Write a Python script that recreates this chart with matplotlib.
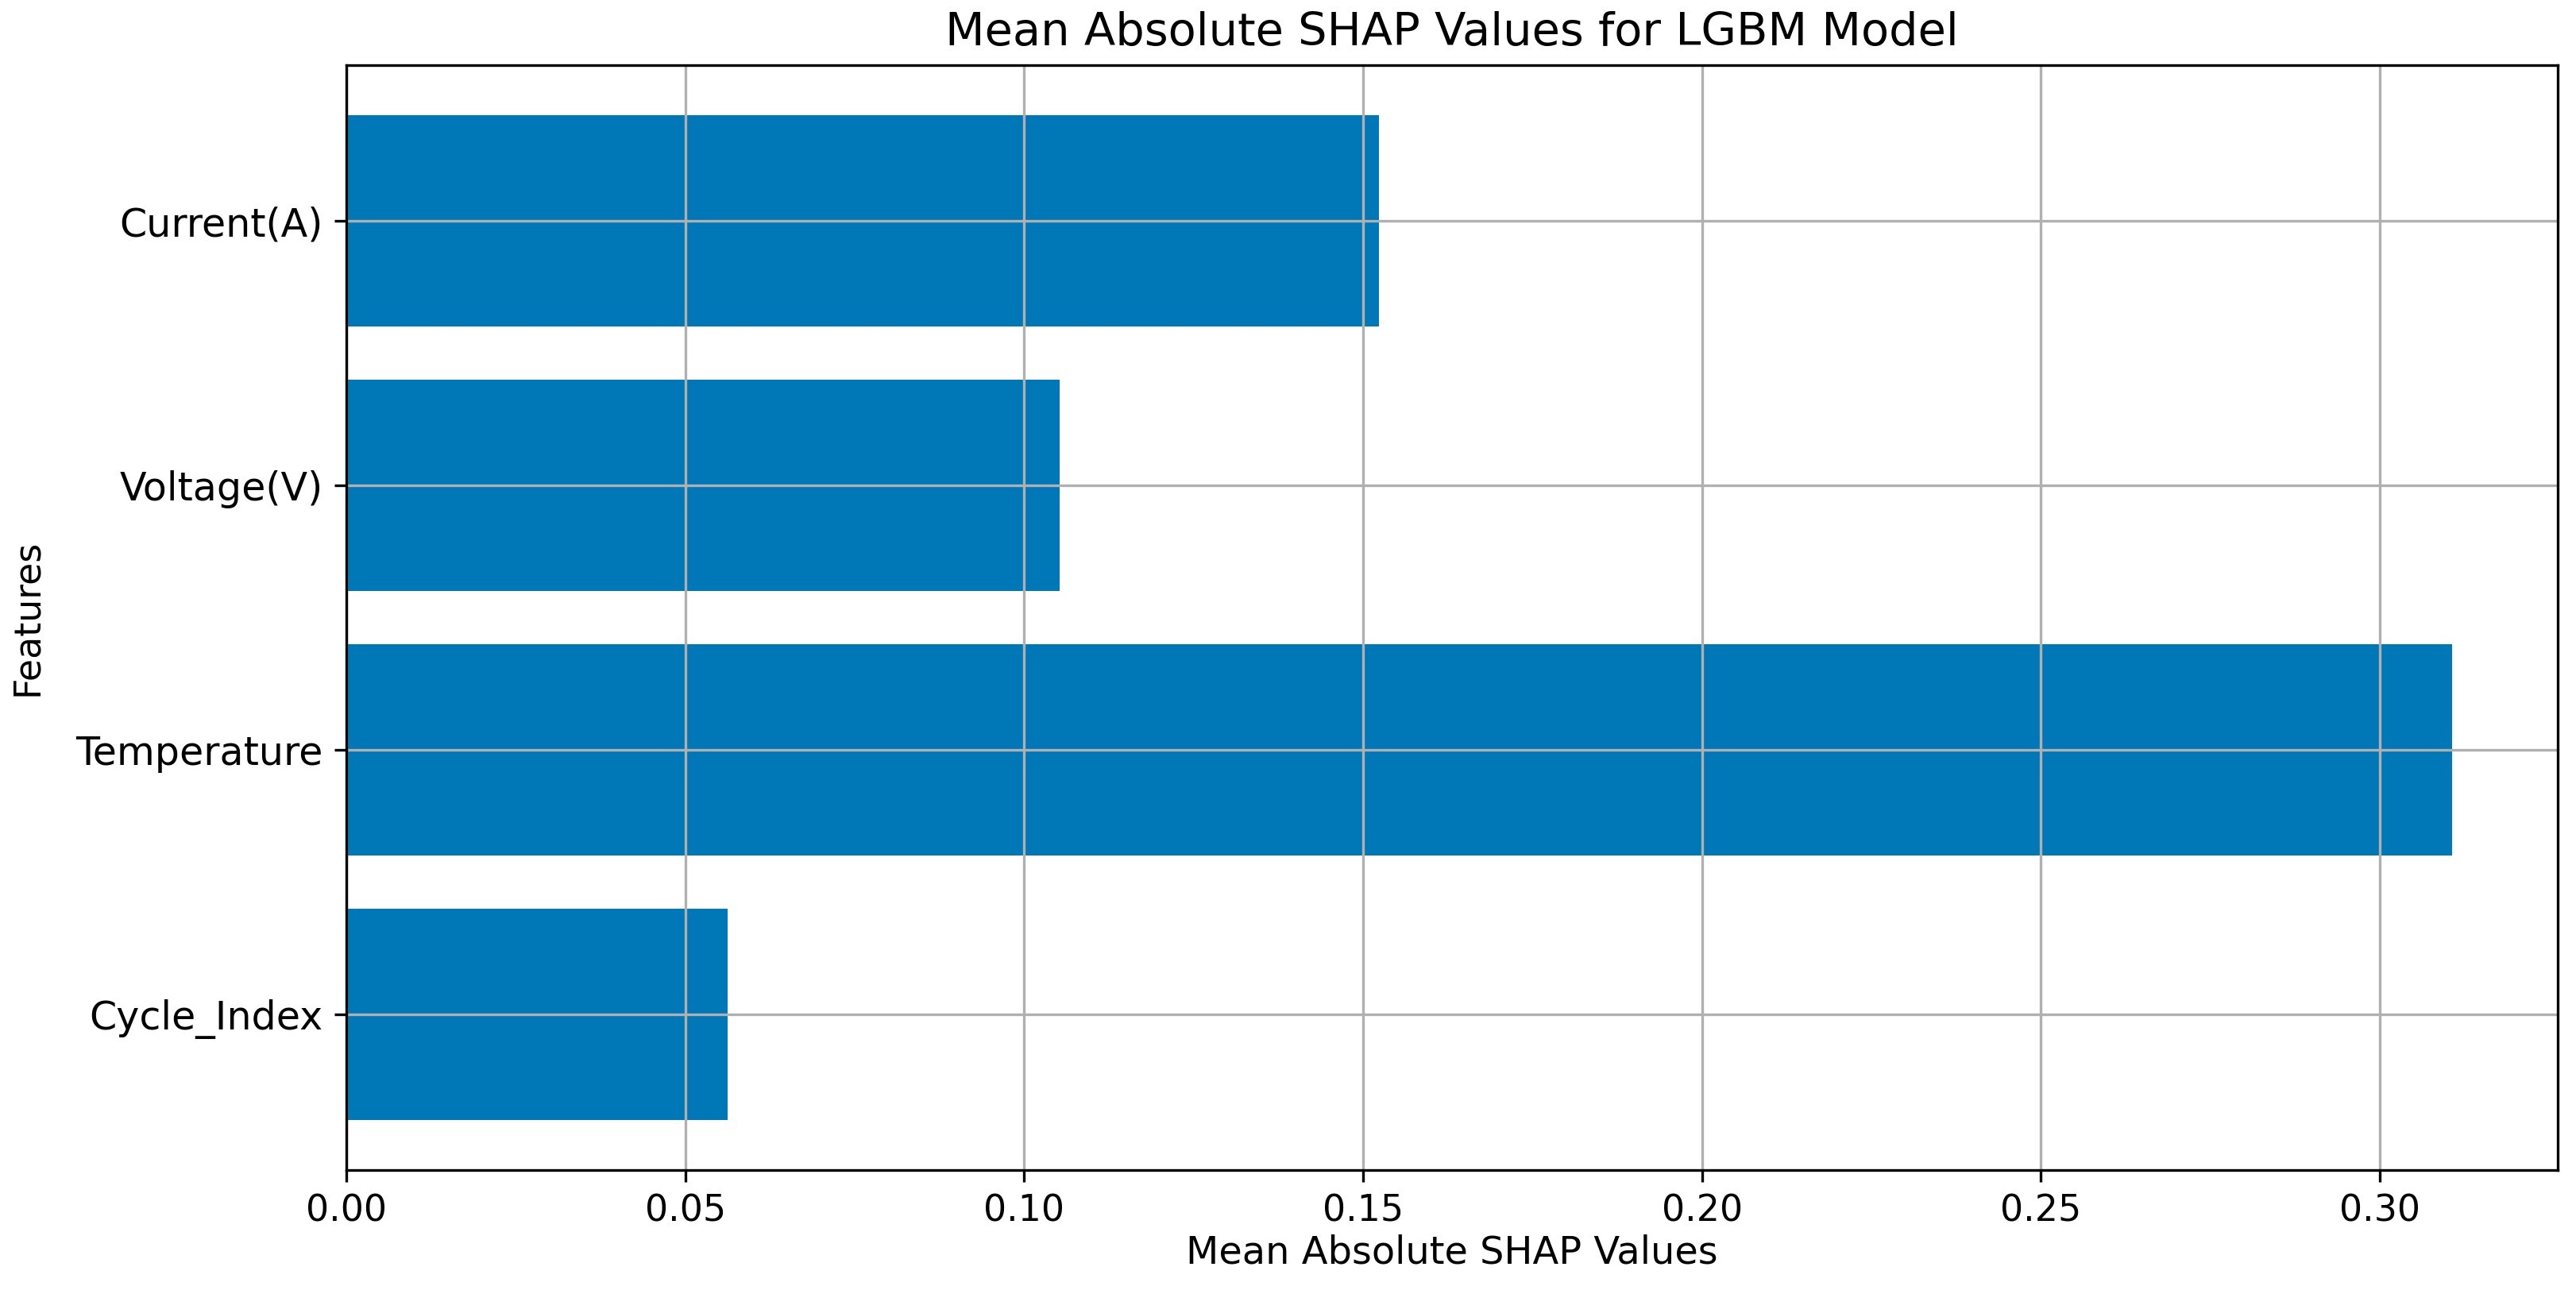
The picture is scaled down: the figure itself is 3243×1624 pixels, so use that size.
import numpy as np
import matplotlib
matplotlib.use("Agg")
import matplotlib.pyplot as plt

# data
features = ["Cycle_Index", "Temperature", "Voltage(V)", "Current(A)"]
mean_abs_shap = [0.0563, 0.3107, 0.1053, 0.1523]

title = "Mean Absolute SHAP Values for LGBM Model"
xlabel = "Mean Absolute SHAP Values"
ylabel = "Features"


def main():
    fig = plt.figure(figsize=(3243 / 300, 1624 / 300), dpi=300)
    ax = fig.add_axes([0.1344, 0.0930, 0.8585, 0.8565])

    y = np.arange(len(features))
    ax.barh(y, mean_abs_shap, height=0.8, color="#0077b6")
    ax.set_yticks(y)
    ax.set_yticklabels(features)

    ax.grid(True)
    ax.tick_params(axis="x", labelsize=11)
    ax.tick_params(axis="y", labelsize=11.8)
    ax.set_title(title, fontsize=13.8)
    ax.set_xlabel(xlabel, fontsize=11.5)
    ax.set_ylabel(ylabel, fontsize=11)
    ax.yaxis.set_label_coords(-0.136, 0.5)
    ax.xaxis.set_label_coords(0.5, -0.058)

    fig.savefig("out.png", dpi=300)


if __name__ == "__main__":
    main()
